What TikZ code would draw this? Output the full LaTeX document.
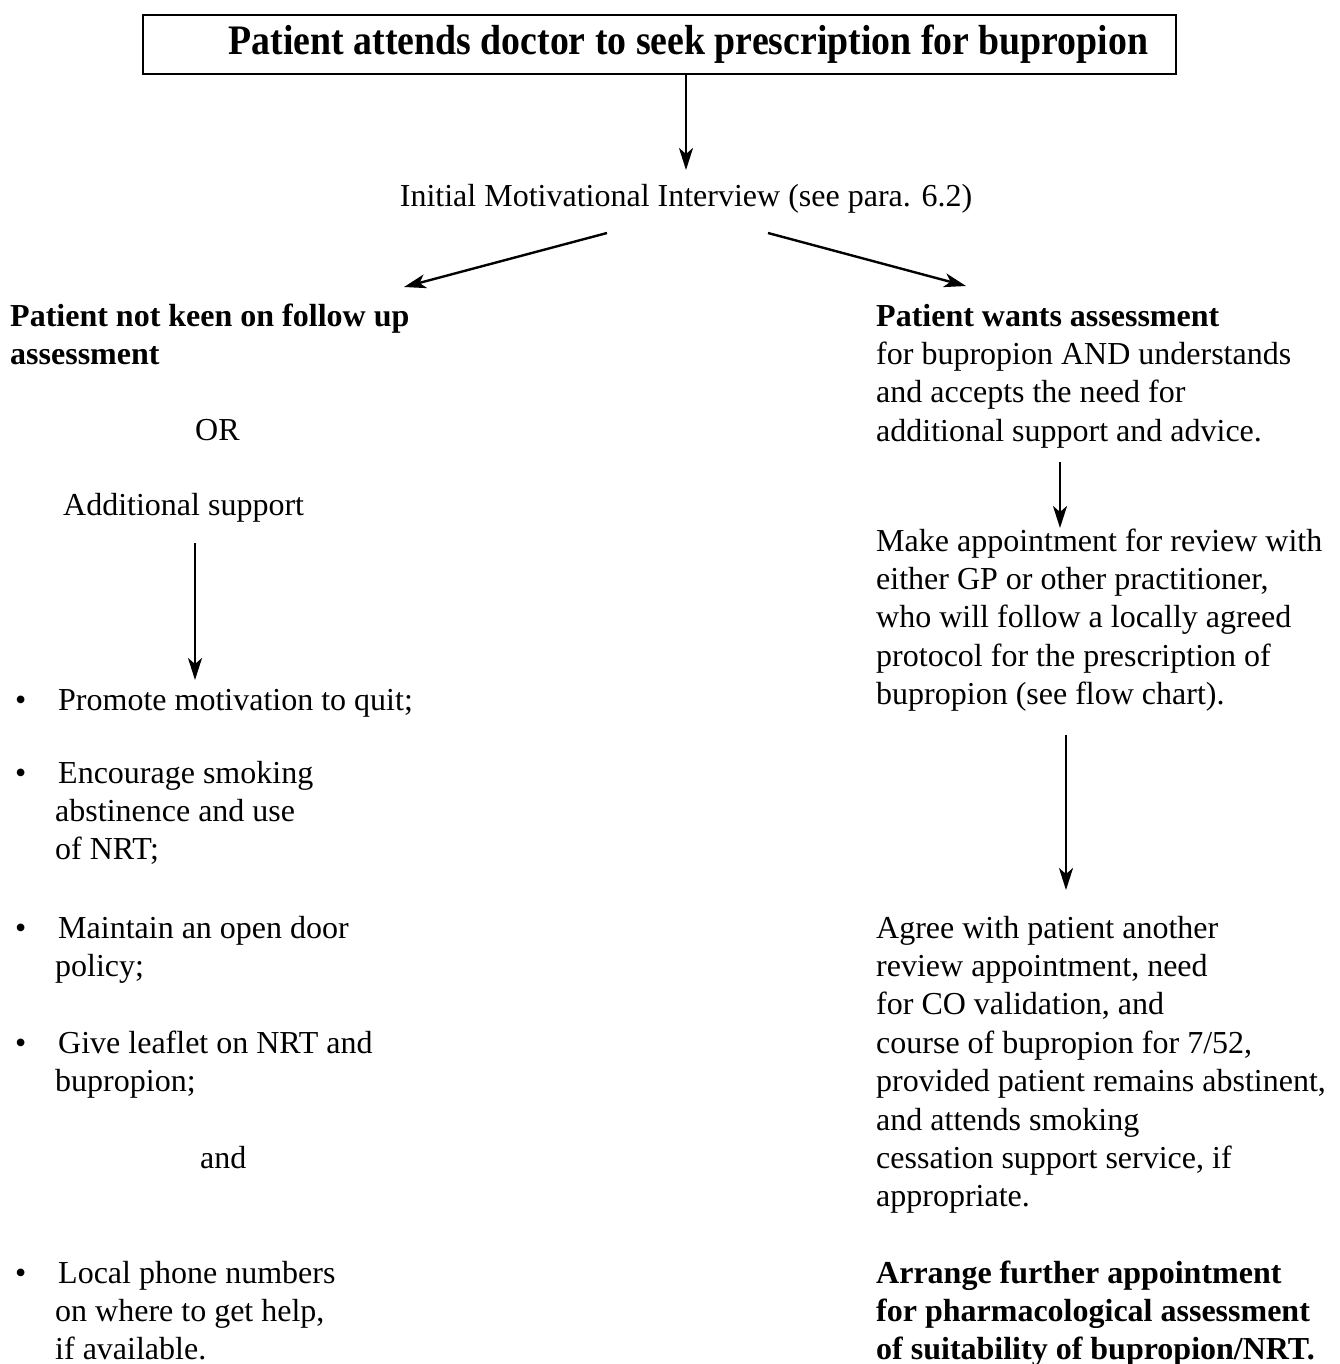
\documentclass[tikz,border=0pt]{standalone}
\usepackage{fontspec}
\setmainfont{Liberation Serif}
\newfontfamily\condfont{Liberation Serif}[FakeStretch=0.9]
\usetikzlibrary{arrows.meta}
\newcommand\mylines[1]{\begin{tabular}[t]{@{}l@{}}#1\end{tabular}}
\tikzset{
  txt/.style={anchor=base west, inner sep=0pt, font=\fontsize{32}{38.4}\selectfont},
  ctr/.style={anchor=base, inner sep=0pt, font=\fontsize{32}{38.4}\selectfont},
  arr/.style={line width=2.4pt, -{Stealth[length=22pt,width=14pt,inset=6pt]}},
}
\begin{document}
\begin{tikzpicture}[x=1pt,y=-1pt]
\useasboundingbox (0,0) rectangle (1339,1364);
% top box
\node[draw, line width=2.5pt, minimum width=1033pt, minimum height=59pt, inner sep=0pt,
      font=\condfont\bfseries\fontsize{42}{45}\selectfont] (top) at (659.5,44.5)
      {\hspace*{58pt}Patient attends doctor to seek prescription for bupropion};
\node[ctr] (init) at (686,207) {Initial Motivational Interview (see para. 6.2)};
\coordinate (initL) at (607,233);
\coordinate (initR) at (768,233);
\coordinate (a1end) at (686,170);
\coordinate (lend) at (404,287);
\coordinate (rend) at (966,286);
\draw[arr] (top.south -| a1end) -- (a1end);
\draw[arr] (initL) -- (lend);
\draw[arr] (initR) -- (rend);

% left column
\node[txt, font=\bfseries\fontsize{32}{38.4}\selectfont] (lhead) at (10,326) {\mylines{Patient not keen on follow up\\assessment}};
\node[txt] (or) at (195,440) {OR};
\node[txt] (addsup) at (63,515) {Additional support};
\coordinate (lstart) at (195,543);
\coordinate (lend2) at (195,680);
\draw[arr] (lstart) -- (lend2);

\node[txt] (b1) at (15,710) {•};
\node[txt] (t1) at (58,710) {Promote motivation to quit;};
\node[txt] (b2) at (15,783) {•};
\node[txt] (t2) at (58,783) {\mylines{Encourage smoking\\\hspace{-3pt}abstinence and use\\\hspace{-3pt}of NRT;}};
\node[txt] (b3) at (15,938) {•};
\node[txt] (t3) at (58,938) {\mylines{Maintain an open door\\\hspace{-3pt}policy;}};
\node[txt] (b4) at (15,1053) {•};
\node[txt] (t4) at (58,1053) {\mylines{Give leaflet on NRT and\\\hspace{-3pt}bupropion;}};
\node[txt] (and) at (200,1168) {and};
\node[txt] (b5) at (15,1283) {•};
\node[txt] (t5) at (58,1283) {\mylines{Local phone numbers\\\hspace{-3pt}on where to get help,\\\hspace{-3pt}if available.}};

% right column
\node[txt] (rhead) at (876,326) {\mylines{\textbf{Patient wants assessment}\\for bupropion AND understands\\and accepts the need for\\additional support and advice.}};
\coordinate (r1s) at (1060,462);
\coordinate (r1e) at (1060,528);
\draw[arr] (r1s) -- (r1e);
\node[txt] (make) at (876,551) {\mylines{Make appointment for review with\\either GP or other practitioner,\\who will follow a locally agreed\\protocol for the prescription of\\bupropion (see flow chart).}};
\coordinate (r2s) at (1066,735);
\coordinate (r2e) at (1066,890);
\draw[arr] (r2s) -- (r2e);
\node[txt] (agree) at (876,938) {\mylines{Agree with patient another\\review appointment, need\\for CO validation, and\\course of bupropion for 7/52,\\provided patient remains abstinent,\\and attends smoking\\cessation support service, if\\appropriate.}};
\node[txt, font=\bfseries\fontsize{32}{38.4}\selectfont] (arrange) at (876,1283) {\mylines{Arrange further appointment\\for pharmacological assessment\\of suitability of bupropion/NRT.}};
\end{tikzpicture}
\end{document}
